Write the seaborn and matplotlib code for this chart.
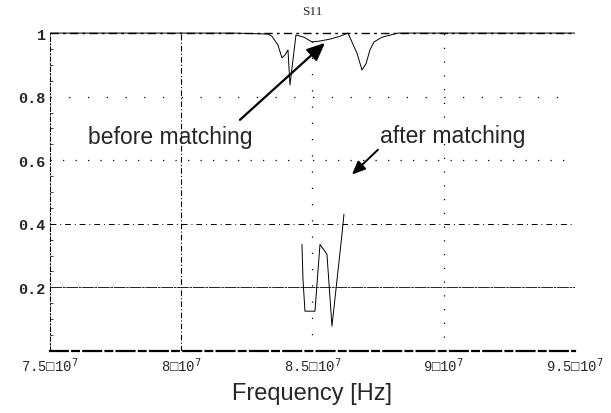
import seaborn as sns
import pandas as pd
import matplotlib.pyplot as plt
from matplotlib.ticker import FixedLocator, MultipleLocator

# data
freq_before = [7.50e7, 8.20e7, 8.3305e7, 8.3457e7, 8.3686e7, 8.3838e7, 8.3952e7, 8.4067e7,
               8.4143e7, 8.4371e7, 8.4676e7, 8.4981e7, 8.5286e7, 8.5667e7, 8.6048e7,
               8.6352e7, 8.6695e7, 8.6886e7, 8.7038e7, 8.7190e7, 8.7343e7, 8.7648e7,
               8.8257e7, 9.50e7]
s11_before = [1.0, 1.0, 0.997, 0.99, 0.962, 0.922, 0.931, 0.947,
              0.837, 0.994, 0.987, 0.972, 0.975, 0.981, 0.99,
              1.0, 0.937, 0.884, 0.903, 0.947, 0.972, 0.987,
              1.0, 1.0]

freq_after = [8.460e7, 8.4638e7, 8.4714e7, 8.5095e7, 8.5286e7, 8.5552e7, 8.5743e7, 8.6124e7, 8.620e7]
s11_after = [0.335, 0.226, 0.125, 0.125, 0.335, 0.304, 0.078, 0.367, 0.43]

xticks = [7.5e7, 8.0e7, 8.5e7, 9.0e7, 9.5e7]
xtick_labels = ["7.5\u25a110$^7$", "8\u25a110$^7$", "8.5\u25a110$^7$", "9\u25a110$^7$", "9.5\u25a110$^7$"]
yticks = [0.2, 0.4, 0.6, 0.8, 1.0]
ytick_labels = ["0.2", "0.4", "0.6", "0.8", "1"]

before = pd.DataFrame({"f": freq_before, "s11": s11_before})
after = pd.DataFrame({"f": freq_after, "s11": s11_after})

sns.set_style("white")
plt.rcParams['font.family'] = ['Liberation Sans', 'DejaVu Sans']
plt.rcParams['mathtext.fontset'] = 'dejavusans'

fig, ax = plt.subplots(figsize=(6.11, 4.14), dpi=100)
fig.subplots_adjust(left=0.0818, right=0.941, bottom=0.150, top=0.920)

sns.lineplot(data=before, x="f", y="s11", color="black", lw=0.7, ax=ax, sort=False)
sns.lineplot(data=after, x="f", y="s11", color="black", lw=0.7, ax=ax, sort=False)

ax.set_xlim(7.5e7, 9.5e7)
ax.set_ylim(0.0, 1.003)
ax.xaxis.set_major_locator(FixedLocator(xticks))
ax.yaxis.set_major_locator(FixedLocator(yticks))
ax.set_xticklabels(xtick_labels, family=['Liberation Mono', 'DejaVu Sans Mono'], fontsize=10)
ax.set_yticklabels(ytick_labels, family=['Liberation Mono', 'DejaVu Sans Mono'], fontsize=11,
                   fontweight='bold')
ax.yaxis.set_minor_locator(MultipleLocator(0.05))
ax.tick_params(axis='both', which='major', direction='in', length=4, width=0.8, pad=3)
ax.tick_params(axis='y', which='minor', direction='in', length=2, width=0.6, left=True)
ax.tick_params(axis='x', which='major', bottom=False)

# grid lines like the scanned Mathematica output
ax.grid(True, color="black")
ystyles = [((0, (14, 1, 3, 1)), 0.6), ((0, (6, 4, 1, 4)), 0.7), ((0, (1, 9)), 0.9),
           ((0, (1, 14)), 0.9), ((0, (6, 3, 2, 3)), 1.0)]
for gl, (ls, lw) in zip(ax.get_ygridlines(), ystyles):
    gl.set_linestyle(ls)
    gl.set_linewidth(lw)
xstyles = [None, ((0, (5, 2, 1, 2)), 0.8), ((0, (1, 12)), 0.9), ((0, (1, 10)), 0.9), None]
for gl, st in zip(ax.get_xgridlines(), xstyles):
    if st is None:
        gl.set_visible(False)
    else:
        gl.set_linestyle(st[0])
        gl.set_linewidth(st[1])

for side in ["top", "right"]:
    ax.spines[side].set_visible(False)
ax.spines["left"].set_linestyle((0, (4, 2, 1, 2)))
ax.spines["left"].set_linewidth(0.8)
ax.spines["bottom"].set_linestyle((0, (8, 2, 3, 2)))
ax.spines["bottom"].set_linewidth(1.6)
ax.spines["left"].set_color("black")
ax.spines["bottom"].set_color("black")

ax.set_title("S11", family=['Liberation Serif', 'DejaVu Serif'], fontsize=9.5, pad=13)
ax.set_xlabel("Frequency [Hz]", fontsize=17, labelpad=6)
ax.set_ylabel("")

ax.text(7.6448e7, 0.655, "before matching", fontsize=16.5, ha="left", va="baseline")
ax.text(8.757e7, 0.658, "after matching", fontsize=16.5, ha="left", va="baseline")
ax.annotate("", xy=(8.5476e7, 0.969), xytext=(8.2238e7, 0.727),
            arrowprops=dict(arrowstyle="-|>,head_length=0.9,head_width=0.4",
                            color="black", lw=1.6, mutation_scale=12,
                            shrinkA=0, shrinkB=0))
ax.annotate("", xy=(8.6505e7, 0.555), xytext=(8.7495e7, 0.633),
            arrowprops=dict(arrowstyle="-|>,head_length=0.8,head_width=0.35",
                            color="black", lw=1.4, mutation_scale=10,
                            shrinkA=0, shrinkB=0))

plt.savefig("out.png", dpi=100)
